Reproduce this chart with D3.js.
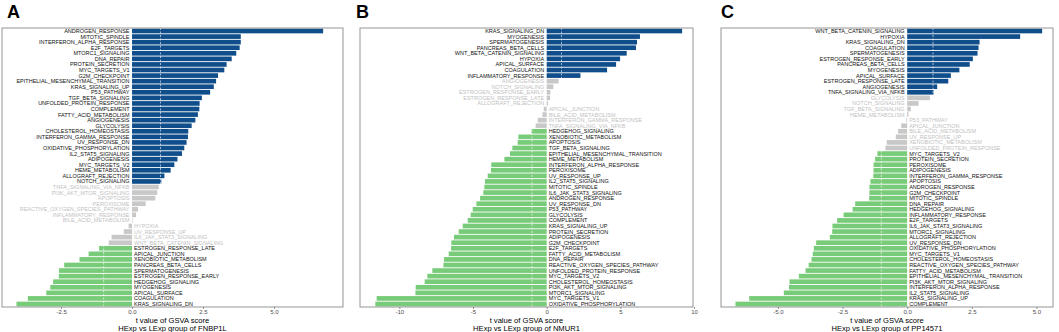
<!DOCTYPE html>
<html>
<head>
<meta charset="utf-8">
<script src="https://cdn.jsdelivr.net/npm/d3@7"></script>
<style>
  body { margin: 0; background: #fff; }
  text { font-family: "Liberation Sans", Arial, Helvetica, sans-serif; }
</style>
</head>
<body>
<div id="chart"></div>
<script>
// hallmark gene sets, top to bottom as shown in each panel
const namesA = ["ANDROGEN_RESPONSE", "MITOTIC_SPINDLE", "INTERFERON_ALPHA_RESPONSE", "E2F_TARGETS", "MTORC1_SIGNALING",
  "DNA_REPAIR", "PROTEIN_SECRETION", "MYC_TARGETS_V1", "G2M_CHECKPOINT", "EPITHELIAL_MESENCHYMAL_TRANSITION",
  "KRAS_SIGNALING_UP", "P53_PATHWAY", "TGF_BETA_SIGNALING", "UNFOLDED_PROTEIN_RESPONSE", "COMPLEMENT",
  "FATTY_ACID_METABOLISM", "ANGIOGENESIS", "GLYCOLYSIS", "CHOLESTEROL_HOMEOSTASIS", "INTERFERON_GAMMA_RESPONSE",
  "UV_RESPONSE_DN", "OXIDATIVE_PHOSPHORYLATION", "IL2_STAT5_SIGNALING", "ADIPOGENESIS", "MYC_TARGETS_V2",
  "HEME_METABOLISM", "ALLOGRAFT_REJECTION", "NOTCH_SIGNALING", "TNFA_SIGNALING_VIA_NFKB", "PI3K_AKT_MTOR_SIGNALING",
  "APOPTOSIS", "PEROXISOME", "REACTIVE_OXYGEN_SPECIES_PATHWAY", "INFLAMMATORY_RESPONSE", "BILE_ACID_METABOLISM",
  "HYPOXIA", "UV_RESPONSE_UP", "IL6_JAK_STAT3_SIGNALING", "WNT_BETA_CATENIN_SIGNALING", "ESTROGEN_RESPONSE_LATE",
  "APICAL_JUNCTION", "XENOBIOTIC_METABOLISM", "PANCREAS_BETA_CELLS", "SPERMATOGENESIS", "ESTROGEN_RESPONSE_EARLY",
  "HEDGEHOG_SIGNALING", "MYOGENESIS", "APICAL_SURFACE", "COAGULATION", "KRAS_SIGNALING_DN"]
const valuesA = [6.73, 3.83, 3.83, 3.79, 3.67, 3.51, 3.33, 3.25, 3.03, 2.96,
  2.88, 2.75, 2.46, 2.38, 2.37, 2.32, 2.23, 2.10, 1.98, 1.97,
  1.92, 1.84, 1.76, 1.60, 1.49, 1.36, 1.14, 1.03, 0.94, 0.89,
  0.82, 0.48, 0.21, 0.14, 0.02, -0.12, -0.29, -0.72, -0.82, -1.16,
  -1.53, -1.85, -2.39, -2.57, -2.58, -2.78, -2.88, -3.02, -3.67, -4.07]

const namesB = ["KRAS_SIGNALING_DN", "MYOGENESIS", "SPERMATOGENESIS", "PANCREAS_BETA_CELLS", "WNT_BETA_CATENIN_SIGNALING",
  "HYPOXIA", "APICAL_SURFACE", "COAGULATION", "INFLAMMATORY_RESPONSE", "ANGIOGENESIS",
  "NOTCH_SIGNALING", "ESTROGEN_RESPONSE_EARLY", "ESTROGEN_RESPONSE_LATE", "ALLOGRAFT_REJECTION", "APICAL_JUNCTION",
  "BILE_ACID_METABOLISM", "INTERFERON_GAMMA_RESPONSE", "TNFA_SIGNALING_VIA_NFKB", "HEDGEHOG_SIGNALING", "XENOBIOTIC_METABOLISM",
  "APOPTOSIS", "TGF_BETA_SIGNALING", "EPITHELIAL_MESENCHYMAL_TRANSITION", "HEME_METABOLISM", "INTERFERON_ALPHA_RESPONSE",
  "PEROXISOME", "UV_RESPONSE_UP", "IL2_STAT5_SIGNALING", "MITOTIC_SPINDLE", "IL6_JAK_STAT3_SIGNALING",
  "ANDROGEN_RESPONSE", "UV_RESPONSE_DN", "P53_PATHWAY", "GLYCOLYSIS", "COMPLEMENT",
  "KRAS_SIGNALING_UP", "PROTEIN_SECRETION", "ADIPOGENESIS", "G2M_CHECKPOINT", "E2F_TARGETS",
  "FATTY_ACID_METABOLISM", "DNA_REPAIR", "REACTIVE_OXYGEN_SPECIES_PATHWAY", "UNFOLDED_PROTEIN_RESPONSE", "MYC_TARGETS_V2",
  "CHOLESTEROL_HOMEOSTASIS", "PI3K_AKT_MTOR_SIGNALING", "MTORC1_SIGNALING", "MYC_TARGETS_V1", "OXIDATIVE_PHOSPHORYLATION"]
const valuesB = [9.19, 6.33, 6.13, 6.06, 5.43, 4.98, 4.71, 4.10, 2.29, 0.81,
  0.45, 0.25, 0.23, 0.09, -0.20, -0.29, -0.61, -0.75, -1.03, -1.92,
  -1.97, -2.33, -2.49, -2.87, -3.76, -3.78, -4.00, -4.19, -4.23, -4.30,
  -4.52, -4.77, -5.02, -5.16, -5.36, -5.70, -5.97, -6.29, -6.47, -6.49,
  -6.65, -6.97, -7.01, -7.76, -8.10, -8.28, -8.89, -8.91, -11.54, -11.63]

const namesC = ["WNT_BETA_CATENIN_SIGNALING", "HYPOXIA", "KRAS_SIGNALING_DN", "COAGULATION", "SPERMATOGENESIS",
  "ESTROGEN_RESPONSE_EARLY", "PANCREAS_BETA_CELLS", "MYOGENESIS", "APICAL_SURFACE", "ESTROGEN_RESPONSE_LATE",
  "ANGIOGENESIS", "TNFA_SIGNALING_VIA_NFKB", "GLYCOLYSIS", "NOTCH_SIGNALING", "TGF_BETA_SIGNALING",
  "HEME_METABOLISM", "P53_PATHWAY", "APICAL_JUNCTION", "BILE_ACID_METABOLISM", "UV_RESPONSE_UP",
  "XENOBIOTIC_METABOLISM", "UNFOLDED_PROTEIN_RESPONSE", "MYC_TARGETS_V2", "PROTEIN_SECRETION", "PEROXISOME",
  "ADIPOGENESIS", "INTERFERON_GAMMA_RESPONSE", "APOPTOSIS", "ANDROGEN_RESPONSE", "G2M_CHECKPOINT",
  "MITOTIC_SPINDLE", "DNA_REPAIR", "HEDGEHOG_SIGNALING", "INFLAMMATORY_RESPONSE", "E2F_TARGETS",
  "IL6_JAK_STAT3_SIGNALING", "MTORC1_SIGNALING", "ALLOGRAFT_REJECTION", "UV_RESPONSE_DN", "OXIDATIVE_PHOSPHORYLATION",
  "MYC_TARGETS_V1", "CHOLESTEROL_HOMEOSTASIS", "REACTIVE_OXYGEN_SPECIES_PATHWAY", "FATTY_ACID_METABOLISM", "EPITHELIAL_MESENCHYMAL_TRANSITION",
  "PI3K_AKT_MTOR_SIGNALING", "INTERFERON_ALPHA_RESPONSE", "IL2_STAT5_SIGNALING", "KRAS_SIGNALING_UP", "COMPLEMENT"]
const valuesC = [5.22, 4.37, 2.80, 2.76, 2.72, 2.54, 2.42, 2.02, 1.69, 1.59,
  1.16, 1.02, 0.88, 0.44, 0.14, 0.05, -0.03, -0.23, -0.35, -0.44,
  -0.79, -0.84, -1.15, -1.24, -1.30, -1.30, -1.31, -1.42, -1.46, -1.46,
  -1.47, -2.01, -2.11, -2.46, -2.71, -2.89, -2.90, -2.99, -3.52, -3.61,
  -3.65, -3.70, -3.81, -3.93, -4.19, -4.55, -4.57, -4.77, -6.11, -6.64]

const ticksA = [-2.5, 0, 2.5, 5]
const tickLabelsA = ["-2.5", "0.0", "2.5", "5.0"]
const ticksB = [-10, -5, 0, 5, 10]
const tickLabelsB = ["-10", "-5", "0", "5", "10"]
const ticksC = [-5, -2.5, 0, 2.5, 5]
const tickLabelsC = ["-5.0", "-2.5", "0.0", "2.5", "5.0"]

const genes = ["FNBP1L", "NMUR1", "PP14571"]
const threshold = 1

const width = 1059
const height = 332
const plotTop = 28
const plotBottom = 307

const panels = [
  {tag: "A", names: namesA, values: valuesA, ticks: ticksA, labels: tickLabelsA, domain: [-4.58, 7.43], x0: 2, x1: 343, tagX: 7, gene: genes[0]},
  {tag: "B", names: namesB, values: valuesB, ticks: ticksB, labels: tickLabelsB, domain: [-12.67, 9.93], x0: 360, x1: 693, tagX: 356, gene: genes[1]},
  {tag: "C", names: namesC, values: valuesC, ticks: ticksC, labels: tickLabelsC, domain: [-7.2, 5.64], x0: 721, x1: 1053, tagX: 721, gene: genes[2]}
]

const color = v => v > threshold ? "#104E8B" : (v < -threshold ? "#78CB78" : "#C8C8C8")

const svg = d3.select("#chart")
  .append("svg")
  .attr("width", width)
  .attr("height", height)
  .style("background", "#fff")

panels.forEach(p => {
  const data = p.names.map((n, i) => ({name: n, value: p.values[i]}))

  const x = d3.scaleLinear().domain(p.domain).range([p.x0, p.x1])
  const y = d3.scaleBand().domain(p.names).range([plotTop, plotBottom]).paddingInner(0.16).paddingOuter(0.12)

  const g = svg.append("g").attr("class", "panel")

  // bars
  g.selectAll("rect.bar")
    .data(data)
    .join("rect")
    .attr("class", "bar")
    .attr("x", d => x(Math.min(0, d.value)))
    .attr("width", d => Math.abs(x(d.value) - x(0)))
    .attr("y", d => y(d.name))
    .attr("height", y.bandwidth())
    .attr("fill", d => color(d.value))

  // threshold lines
  g.selectAll("line.thr")
    .data([-threshold, threshold])
    .join("line")
    .attr("class", "thr")
    .attr("x1", d => x(d)).attr("x2", d => x(d))
    .attr("y1", plotTop).attr("y2", plotBottom)
    .attr("stroke", "#ffffff")
    .attr("stroke-width", 0.8)
    .attr("stroke-dasharray", "2,1.5")
    .attr("opacity", 0.8)

  // labels beside the zero line
  g.selectAll("text.lab")
    .data(data)
    .join("text")
    .attr("class", "lab")
    .attr("x", d => d.value > 0 ? x(0) - 2.5 : x(0) + 2)
    .attr("y", d => y(d.name) + y.bandwidth() / 2)
    .attr("dy", "0.36em")
    .attr("text-anchor", d => d.value > 0 ? "end" : "start")
    .attr("font-size", "5.5px")
    .attr("fill", d => Math.abs(d.value) > threshold ? "#111" : "#BFBFBF")
    .text(d => d.name)

  // panel border
  g.append("rect")
    .attr("x", p.x0).attr("y", plotTop)
    .attr("width", p.x1 - p.x0).attr("height", plotBottom - plotTop)
    .attr("fill", "none")
    .attr("stroke", "#8a8a8a")
    .attr("stroke-width", 0.9)

  // x axis
  const axis = d3.axisBottom(x)
    .tickValues(p.ticks)
    .tickFormat((d, i) => p.labels[i])
    .tickSize(2)
    .tickPadding(1)
  const ax = g.append("g")
    .attr("transform", `translate(0,${plotBottom})`)
    .call(axis)
  ax.select(".domain").remove()
  ax.selectAll(".tick line").attr("stroke", "#555").attr("stroke-width", 0.6)
  ax.selectAll(".tick text")
    .attr("font-size", "6px")
    .attr("fill", "#4D4D4D")
    .attr("font-family", "Liberation Sans, Arial, sans-serif")

  // axis titles
  const cx = (p.x0 + p.x1) / 2
  g.append("text")
    .attr("x", cx).attr("y", 323)
    .attr("text-anchor", "middle")
    .attr("font-size", "7.6px")
    .attr("fill", "#000")
    .text("t value of GSVA score")
  g.append("text")
    .attr("x", cx).attr("y", 330.5)
    .attr("text-anchor", "middle")
    .attr("font-size", "7.6px")
    .attr("fill", "#000")
    .text(`HExp vs LExp group of ${p.gene}`)

  // panel tag
  g.append("text")
    .attr("x", p.tagX).attr("y", 18)
    .attr("font-size", "18px")
    .attr("font-weight", "bold")
    .attr("fill", "#000")
    .text(p.tag)
})
</script>
</body>
</html>
